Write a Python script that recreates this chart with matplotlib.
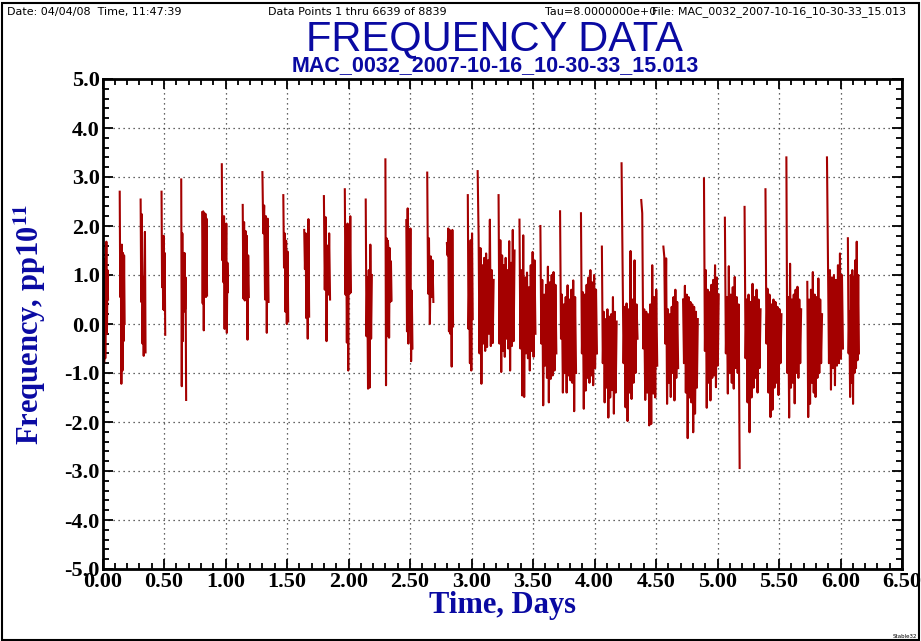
import matplotlib.pyplot as plt
import numpy as np
from matplotlib.patches import Rectangle
from matplotlib.ticker import MultipleLocator, FormatStrFormatter

plt.rcParams['axes.unicode_minus'] = False
plt.rcParams['mathtext.fontset'] = 'stix'

# --- Early measurement bursts (sparse, one every ~4 hours)
early_start = [0.00, 0.14, 0.31, 0.48, 0.64, 0.81, 0.97, 1.14, 1.30, 1.47,
               1.64, 1.80, 1.97, 2.14, 2.30, 2.47, 2.64, 2.80, 2.97]
early_end = [0.045, 0.18, 0.35, 0.51, 0.68, 0.85, 1.02, 1.19, 1.35, 1.51,
             1.68, 1.85, 2.02, 2.19, 2.35, 2.52, 2.69, 2.85, 3.01]
early_freq = [
    [0.90, -0.50, 1.34, -0.78, 1.05, -0.70, 0.40, 1.68, -0.20, 1.10, 0.50],
    [2.70, 0.55, 1.60, -1.22, 1.62, -0.95, 1.45, -0.35, 1.40, 0.00],
    [2.54, 0.45, 2.24, -0.40, 0.95, -0.65, 0.90, 1.88, -0.58],
    [2.70, 0.75, 1.78, 0.30, 1.80, 0.28, 1.45, -0.22],
    [2.95, -1.27, 1.85, -0.35, 1.40, 0.25, 1.45, 0.30, 0.95, -1.55],
    [2.28, 0.42, 2.30, -0.13, 2.26, 0.70, 2.25, 0.55, 2.15, 0.58],
    [3.26, 1.30, 2.19, 0.85, 2.20, -0.10, 1.90, 0.65, 2.05, -0.18, 1.25, 0.65],
    [2.43, 0.52, 2.08, 0.48, 1.90, 0.60, 1.80, -0.32, 1.40, 0.55],
    [3.10, 1.85, 2.42, 0.50, 2.20, -0.18, 2.15, 0.45],
    [2.63, 1.15, 1.85, 0.25, 1.70, 0.00, 1.48, 0.05],
    [1.92, 1.12, 1.85, 0.12, 1.30, -0.30, 2.14, 0.15],
    [2.61, 0.70, 2.18, -0.35, 1.60, 0.60, 1.85, 0.50],
    [2.75, 0.60, 2.02, -0.38, 2.05, -0.95, 2.00, 0.62, 2.20, 0.65],
    [2.54, -0.25, 0.95, -1.32, 1.10, -1.30, 1.62, -0.30, 1.00],
    [3.36, -1.25, 1.75, -0.25, 1.70, 1.50, -0.28, 1.55, 0.45, 1.28, 0.48],
    [2.12, -0.15, 2.36, -0.40, 1.02, 0.05, 1.95, -0.76, 0.68, -0.50],
    [3.09, 0.62, 1.75, 0.00, 1.38, 0.55, 1.30, 0.45],
    [1.65, 1.40, 1.95, -0.15, 1.92, -0.20, 1.10, -0.87, 1.92, -0.05],
    [2.63, -0.10, 0.82, -0.80, 1.71, -0.95, 1.85, 0.10],
]

# --- Later bursts (near-continuous sampling)
late_start = [3.05, 3.22, 3.39, 3.56, 3.72, 3.89, 4.06, 4.22, 4.38, 4.56,
              4.72, 4.89, 5.06, 5.22, 5.39, 5.56, 5.73, 5.89, 6.06]
late_end = [3.18, 3.35, 3.52, 3.69, 3.85, 4.02, 4.18, 4.35, 4.51, 4.68,
            4.84, 5.01, 5.18, 5.35, 5.52, 5.68, 5.85, 6.02, 6.15]
late_freq = [
    [3.12, 1.81, -0.60, 1.55, -1.22, 1.20, -0.40, 1.35, -0.55, 1.44, -0.47, 1.30, -0.20, 2.13, -0.45, 1.10, -0.39, 0.90],
    [2.63, -0.40, 1.71, -0.98, 1.40, -0.55, 1.20, -0.67, 1.35, -0.30, 1.10, -0.50, 1.69, -0.95, 1.25, -0.45, 1.92, -0.35, 1.50],
    [2.13, -0.50, 1.10, -1.46, 1.81, -1.49, 0.95, -0.60, 1.05, -0.70, 0.75, -0.95, 1.20, -0.55, 1.47, -0.67, 1.30, -0.20],
    [2.00, -0.40, 0.90, -1.66, 0.60, -0.85, 0.80, -1.10, 1.17, -1.60, 0.85, -1.12, 1.00, -1.05, 1.06, -0.95, 0.80, -0.60],
    [2.30, -0.30, 0.60, -1.40, 0.40, -1.00, 0.55, -1.40, 0.79, -1.05, 0.50, -1.15, 0.70, -1.20, 0.89, -1.78, 0.55, -1.00],
    [2.26, -0.60, 0.65, -1.73, 0.60, -1.36, 0.80, -1.10, 0.95, -1.20, 1.10, -1.05, 0.85, -1.25, 1.00, -0.90, 0.70, -0.60],
    [1.58, -0.80, 0.25, -1.60, 0.10, -1.30, 0.30, -1.91, 0.15, -1.50, 0.20, -1.35, 0.55, -1.83, 0.25, -1.40, 0.05],
    [3.28, 1.23, -0.80, 0.35, -1.70, 0.42, -1.98, 0.30, -1.40, 1.49, -1.53, 0.50, -1.20, 1.30, -1.00, 0.40, -0.30],
    [2.53, 2.26, -0.50, 0.30, -1.55, 0.25, -1.40, 0.20, -2.07, 0.40, -2.04, 1.20, -1.42, 0.55, -1.50, 0.70, -0.85],
    [1.58, 1.37, -0.40, 1.34, -1.63, 0.30, -1.20, 0.20, -1.49, 0.35, -1.00, 0.55, -1.56, 0.70, -1.10, 0.45, -0.90],
    [0.50, -0.80, 0.78, -1.40, 0.60, -2.33, 0.55, -1.50, 0.45, -1.60, 0.40, -2.21, 0.35, -1.83, 0.25, -1.30, 0.10],
    [2.97, -0.55, 1.10, -1.71, 0.70, -1.20, 0.65, -1.56, 0.80, -1.10, 0.90, -1.05, 1.20, -1.29, 0.95, -0.85, 0.60],
    [2.17, -0.60, 0.55, -1.42, 1.18, -1.00, 0.60, -1.20, 0.75, -1.32, 0.96, -0.90, 0.55, -1.00, 0.40, -2.94],
    [2.39, -0.70, 0.50, -1.60, 0.60, -2.21, 0.45, -1.50, 0.82, -1.30, 0.55, -1.10, 0.70, -1.40, 0.50, -0.90, 0.30],
    [2.75, -0.40, 0.72, -1.40, 0.60, -1.90, 0.40, -1.75, 0.50, -1.30, 0.45, -1.20, 0.35, -1.45, 0.30, -0.80, 0.20],
    [3.40, -1.00, 0.55, -1.91, 1.23, -1.30, 0.50, -1.20, 0.60, -1.62, 0.70, -1.00, 0.76, -1.10, 0.50, -0.80, 0.30],
    [0.86, -1.90, 0.50, -1.63, 0.70, -1.20, 1.06, -1.40, 0.60, -1.49, 0.55, -1.10, 0.93, -1.00, 0.50, -0.80, 0.20],
    [3.40, 1.23, -0.80, 1.10, -1.34, 0.95, -0.90, 1.00, -1.25, 0.90, -0.85, 1.20, -0.80, 1.44, -0.71, 1.00, -0.50],
    [1.75, -0.60, 0.25, -1.49, 1.00, -1.20, 1.10, -1.63, 0.95, -1.00, 1.30, -0.90, 1.68, -0.74, 1.00, -0.60],
]

# --- Join bursts into one trace, NaN between bursts
t_all, f_all = [], []
for starts, ends, vals in [(early_start, early_end, early_freq),
                           (late_start, late_end, late_freq)]:
    for t0, t1, v in zip(starts, ends, vals):
        t_all.extend(np.linspace(t0, t1, len(v)))
        f_all.extend(v)
        t_all.append(np.nan)
        f_all.append(np.nan)
t_all = np.array(t_all)
f_all = np.array(f_all)

W, H = 921, 641
blue = '#0a0aa2'

fig = plt.figure(figsize=(W / 100, H / 100), dpi=100)
ax = fig.add_axes([102.5 / W, (H - 569) / H, 799.5 / W, 490 / H])

ax.plot(t_all, f_all, color='#a40000', lw=1.5)

ax.set_xlim(0, 6.5)
ax.set_ylim(-5, 5)
ax.xaxis.set_major_locator(MultipleLocator(0.5))
ax.xaxis.set_minor_locator(MultipleLocator(0.1))
ax.yaxis.set_major_locator(MultipleLocator(1.0))
ax.yaxis.set_minor_locator(MultipleLocator(0.2))
ax.xaxis.set_major_formatter(FormatStrFormatter('%.2f'))
ax.yaxis.set_major_formatter(FormatStrFormatter('%.1f'))

ax.grid(True, which='major', ls=(0, (1, 3)), lw=0.9, color='#333333')
ax.tick_params(which='both', direction='in', top=True, right=True, width=1.3)
ax.tick_params(which='major', length=7, pad=2)
ax.tick_params(which='minor', length=4)
for lab in ax.get_xticklabels() + ax.get_yticklabels():
    lab.set_fontfamily('Liberation Serif')
    lab.set_fontweight('bold')
    lab.set_fontsize(16)
for sp in ax.spines.values():
    sp.set_linewidth(2)


def ftext(x, y, s, **kw):
    fig.text(x / W, 1 - y / H, s, **kw)


# header line
hdr = dict(fontsize=8, family='DejaVu Sans', va='center', ha='left')
ftext(7, 12, 'Date: 04/04/08  Time, 11:47:39', **hdr)
ftext(268, 12, 'Data Points 1 thru 6639 of 8839', **hdr)
ftext(545, 12, 'Tau=8.0000000e+0', **hdr)
ftext(652, 12, 'File: MAC_0032_2007-10-16_10-30-33_15.013', **hdr)

# titles
ftext(494, 50, 'FREQUENCY DATA', fontsize=30, family='Liberation Sans',
      color=blue, ha='center', va='baseline')
ftext(495, 71.5, 'MAC_0032_2007-10-16_10-30-33_15.013', fontsize=15.5,
      family='Liberation Sans', weight='bold', color=blue, ha='center', va='baseline')

# axis labels
ftext(30, 324, r'Frequency, pp10$^{\mathbf{11}}$', fontsize=22, family='Liberation Serif',
      weight='bold', color=blue, rotation=90, ha='center', va='center')
ftext(502, 606, 'Time, Days', fontsize=22, family='Liberation Serif',
      weight='bold', color=blue, ha='center', va='center')

ftext(905, 636, 'Stable32', fontsize=4, ha='center', va='center')

# outer frame
fig.patches.append(Rectangle((1.5 / W, 1.5 / H), (W - 4) / W, (H - 4) / H,
                             transform=fig.transFigure, fill=False,
                             edgecolor='black', lw=1.5))

fig.savefig('out.png', dpi=100)
